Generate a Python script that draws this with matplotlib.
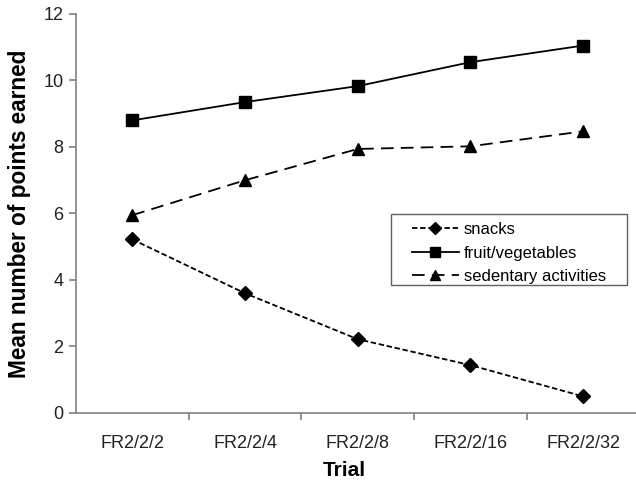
import matplotlib
matplotlib.use("Agg")
import matplotlib.pyplot as plt
from matplotlib.patches import Rectangle

plt.rcParams["font.family"] = ["Liberation Sans", "DejaVu Sans"]

# data
trials = ["FR2/2/2", "FR2/2/4", "FR2/2/8", "FR2/2/16", "FR2/2/32"]
snacks = [5.22, 3.6, 2.22, 1.44, 0.5]
fruit_veg = [8.8, 9.35, 9.83, 10.55, 11.05]
sedentary = [5.95, 7.0, 7.94, 8.02, 8.47]

fig = plt.figure(figsize=(6.36, 4.8), dpi=100)
ax = fig.add_axes([0.1195, 0.1396, 0.8805, 0.8313])

x = list(range(len(trials)))
ax.plot(x, snacks, color="black", lw=1.3, ls=(0, (3, 1.5)), marker="D",
        ms=7, label="snacks")
ax.plot(x, fruit_veg, color="black", lw=1.3, ls="-", marker="s",
        ms=8.5, label="fruit/vegetables")
ax.plot(x, sedentary, color="black", lw=1.3, ls=(0, (7, 4)), marker="^",
        ms=8.5, label="sedentary activities")

ax.set_xlim(-0.5, 4.47)
ax.set_ylim(0, 12)
ax.set_yticks(range(0, 13, 2))

# Excel-style: tick marks between categories, labels centred on them
ax.set_xticks([i + 0.5 for i in range(len(trials) - 1)])
ax.set_xticklabels([])
ax.set_xticks(x, minor=True)
ax.set_xticklabels(trials, minor=True)
ax.tick_params(axis="x", which="minor", length=0, pad=16, labelsize=13,
               labelcolor="#222222")
ax.tick_params(axis="x", which="major", length=5, color="#808080", width=1.2)
ax.tick_params(axis="y", length=5, color="#808080", width=1.2, labelsize=13,
               pad=4, labelcolor="#222222")

for side in ["top", "right"]:
    ax.spines[side].set_visible(False)
for side in ["left", "bottom"]:
    ax.spines[side].set_color("#808080")
    ax.spines[side].set_linewidth(1.2)

ax.set_xlabel("Trial", fontsize=15, fontweight="bold")
ax.xaxis.set_label_coords(0.48, -0.12)
ax.set_ylabel("Mean number of points earned", fontsize=16.3, fontweight="bold")
ax.yaxis.set_label_coords(-0.08, 0.5)

# legend entries without frame, box drawn separately (wider left margin)
ax.legend(loc="upper left", bbox_to_anchor=(0.6, 0.4787), fontsize=12,
          frameon=False, handlelength=2.8, borderpad=0, labelspacing=0.52,
          handletextpad=0.3, borderaxespad=0, markerscale=0.85)
ax.add_patch(Rectangle((0.5625, 0.3208), 0.4214, 0.178, transform=ax.transAxes,
                       fill=False, edgecolor="#606060", lw=1.0, zorder=5))

fig.savefig("out.png", dpi=100)
